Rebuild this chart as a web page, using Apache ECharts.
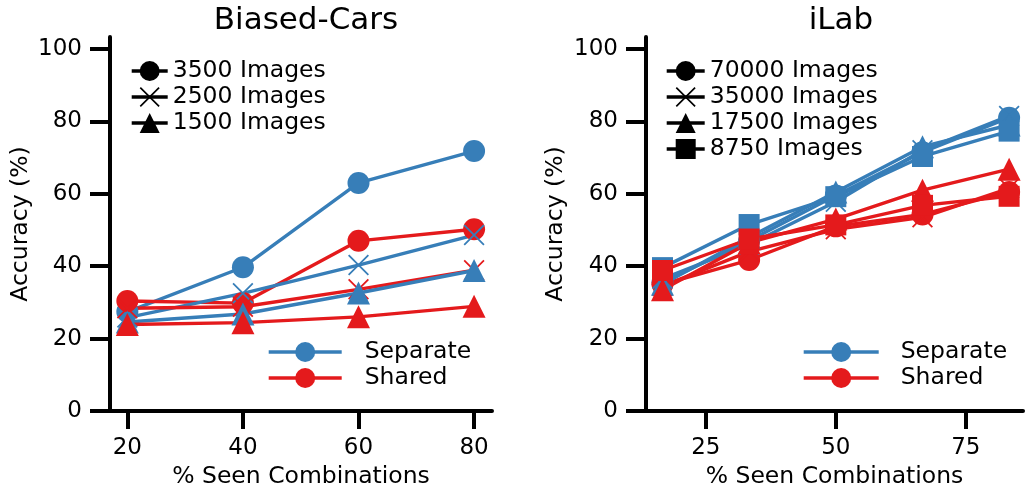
<!DOCTYPE html>
<html>
<head>
<meta charset="utf-8">
<script src="https://cdn.jsdelivr.net/npm/echarts@6/dist/echarts.min.js"></script>
<style>
  html, body { margin: 0; padding: 0; background: #fff; }
  #chart { width: 1025px; height: 491px; }
</style>
</head>
<body>
<div id="chart"></div>
<script>
// ---- data ----
const biasedX = [20, 40, 60, 80];
const biasedSizes = ['3500 Images', '2500 Images', '1500 Images'];
const biasedSeparate = [
  [27.4, 39.7, 63.0, 71.8],
  [25.8, 32.5, 40.3, 48.6],
  [24.6, 26.8, 32.6, 38.8]
];
const biasedShared = [
  [30.4, 29.8, 47.0, 50.2],
  [28.4, 28.8, 33.6, 38.9],
  [23.9, 24.4, 26.0, 28.9]
];

const ilabX = [16.67, 33.33, 50, 66.67, 83.33];
const ilabSizes = ['70000 Images', '35000 Images', '17500 Images', '8750 Images'];
const ilabSeparate = [
  [35.5, 47.0, 59.5, 71.5, 81.0],
  [36.5, 46.0, 57.8, 72.0, 81.5],
  [35.0, 48.0, 60.5, 73.0, 79.0],
  [39.6, 51.5, 59.2, 70.3, 77.3]
];
const ilabShared = [
  [35.0, 41.7, 51.0, 54.3, 60.5],
  [34.5, 44.0, 50.2, 53.5, 61.5],
  [33.5, 46.5, 53.0, 61.0, 66.8],
  [38.8, 47.5, 51.4, 56.8, 59.3]
];

const yTicks = [0, 20, 40, 60, 80, 100];
const biasedXTicks = [20, 40, 60, 80];
const ilabXTicks = [25, 50, 75];

// ---- style ----
const BLUE = '#377eb8';
const RED = '#e41a1c';
const FONT = 'DejaVu Sans';
const CROSS = 'path://M0,6 L6,0 L50,44 L94,0 L100,6 L56,50 L100,94 L94,100 L50,56 L6,100 L0,94 L44,50 Z';
const biasedSymbols = ['circle', CROSS, 'triangle'];
const ilabSymbols = ['circle', CROSS, 'triangle', 'rect'];
const symbolSizes = { circle: 22, triangle: 23, rect: 21 };
function sizeOf(sym) { return symbolSizes[sym] || 21; }

function lineSeries(name, xs, ys, color, symbol, gridIdx) {
  return {
    type: 'line',
    name: name,
    xAxisIndex: gridIdx,
    yAxisIndex: gridIdx,
    data: xs.map((x, i) => [x, ys[i]]),
    symbol: symbol,
    symbolSize: sizeOf(symbol),
    showSymbol: true,
    color: color,
    itemStyle: { color: color, opacity: 1 },
    lineStyle: { color: color, width: 3.4 },
    emphasis: { disabled: true },
    silent: true
  };
}

const series = [];
biasedSizes.forEach((s, k) => {
  series.push(lineSeries('Separate ' + s + ' (B)', biasedX, biasedSeparate[k], BLUE, biasedSymbols[k], 0));
  series.push(lineSeries('Shared ' + s + ' (B)', biasedX, biasedShared[k], RED, biasedSymbols[k], 0));
});
ilabSizes.forEach((s, k) => {
  series.push(lineSeries('Separate ' + s + ' (I)', ilabX, ilabSeparate[k], BLUE, ilabSymbols[k], 1));
  series.push(lineSeries('Shared ' + s + ' (I)', ilabX, ilabShared[k], RED, ilabSymbols[k], 1));
});

// legend-only entries (no data)
function keySeries(name, color, symbol) {
  return {
    type: 'line', name: name, data: [], xAxisIndex: 0, yAxisIndex: 0,
    symbol: symbol, symbolSize: 20, color: color,
    itemStyle: { color: color }, lineStyle: { color: color, width: 3.4 }
  };
}
biasedSizes.forEach((s, k) => series.push(keySeries(s, '#000', biasedSymbols[k])));
ilabSizes.forEach((s, k) => series.push(keySeries(s, '#000', ilabSymbols[k])));
series.push(keySeries('Separate', BLUE, 'circle'));
series.push(keySeries('Shared', RED, 'circle'));

const textStyle = { fontFamily: FONT, fontSize: 23.5, color: '#000' };

function xAxis(gridIdx, min, max, ticks) {
  return {
    gridIndex: gridIdx, type: 'value', min: min, max: max,
    name: '% Seen Combinations', nameLocation: 'middle', nameGap: 53,
    nameTextStyle: textStyle,
    axisLine: { show: true, lineStyle: { color: '#000', width: 4 } },
    axisTick: { show: true, customValues: ticks, length: 18, lineStyle: { color: '#000', width: 4 } },
    axisLabel: { show: true, customValues: ticks, margin: 26, fontFamily: FONT, fontSize: 23, color: '#000' },
    splitLine: { show: false }
  };
}
function yAxis(gridIdx, nameGap) {
  return {
    gridIndex: gridIdx, type: 'value', min: 0, max: 103.3,
    name: 'Accuracy (%)', nameLocation: 'middle', nameGap: nameGap, nameRotate: 90,
    nameTextStyle: textStyle,
    axisLine: { show: true, lineStyle: { color: '#000', width: 4 } },
    axisTick: { show: true, customValues: yTicks, length: 20, lineStyle: { color: '#000', width: 4 } },
    axisLabel: { show: true, customValues: yTicks, margin: 28, fontFamily: FONT, fontSize: 23, color: '#000' },
    splitLine: { show: false }
  };
}

function legend(left, top, itemWidth, names, pad) {
  return {
    left: left, top: top, orient: 'vertical',
    itemWidth: itemWidth, itemHeight: 25, itemGap: 2,
    padding: 0, selectedMode: false,
    data: names,
    lineStyle: { width: 3.4 },
    textStyle: Object.assign({}, textStyle, pad ? { padding: [0, 0, 0, pad] } : {})
  };
}

const option = {
  animation: false,
  backgroundColor: '#fff',
  title: [
    { text: 'Biased-Cars', left: 301, top: 0, textAlign: 'center',
      textStyle: { fontFamily: FONT, fontSize: 31, fontWeight: 'normal', color: '#000' } },
    { text: 'iLab', left: 836, top: 0, textAlign: 'center',
      textStyle: { fontFamily: FONT, fontSize: 31, fontWeight: 'normal', color: '#000' } }
  ],
  grid: [
    { left: 110, top: 37, width: 382, height: 374, outerBoundsMode: 'none', containLabel: false },
    { left: 646, top: 37, width: 377, height: 374, outerBoundsMode: 'none', containLabel: false }
  ],
  xAxis: [xAxis(0, 17, 83.1, biasedXTicks), xAxis(1, 13.5, 86, ilabXTicks)],
  yAxis: [yAxis(0, 77), yAxis(1, 78)],
  legend: [
    legend(130, 59, 36, biasedSizes, 0),
    legend(665, 59, 38, ilabSizes, 0),
    legend(267, 340, 73, ['Separate', 'Shared'], 18),
    legend(802, 340, 75, ['Separate', 'Shared'], 17)
  ],
  series: series
};

const chart = echarts.init(document.getElementById('chart'), null, { renderer: 'canvas' });
chart.setOption(option);
</script>
</body>
</html>
